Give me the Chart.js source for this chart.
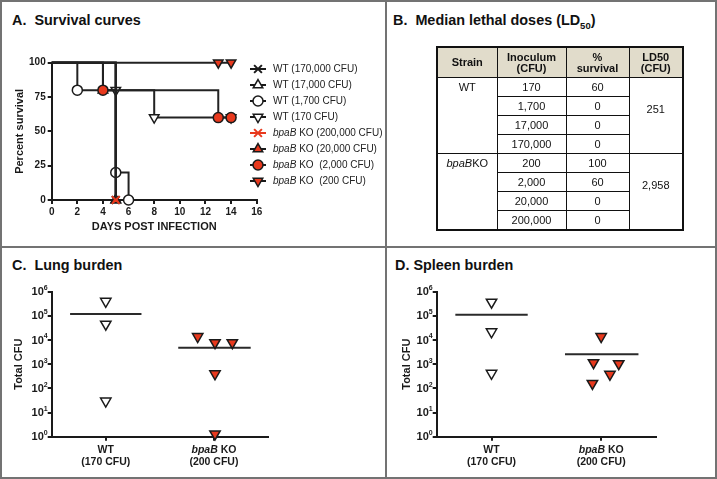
<!DOCTYPE html>
<html>
<head>
<meta charset="utf-8">
<script src="https://cdn.jsdelivr.net/npm/chart.js@4.4.0/dist/chart.umd.min.js"></script>
<style>
  body { margin: 0; background: #fff; font-family: "Liberation Sans", "DejaVu Sans", Arial, sans-serif; }
  #fig { position: relative; width: 717px; height: 479px; overflow: hidden; background: #fff; }
  .frame { position: absolute; left: 0; top: 0; width: 713px; height: 475px; border: 2px solid #737373; }
  .vline { position: absolute; left: 385px; top: 0; width: 2px; height: 479px; background: #737373; }
  .hline { position: absolute; left: 0; top: 246px; width: 717px; height: 2px; background: #737373; }
  .title { position: absolute; font-weight: bold; font-size: 14.4px; white-space: pre; color: #111; line-height: 16px; }
  .title sub { font-size: 9.5px; line-height: 0; }
  canvas { position: absolute; }
  #ld { position: absolute; left: 436px; top: 46px; border-collapse: collapse; border: 2.5px solid #111;
        font-size: 11px; color: #111; table-layout: fixed; will-change: transform; }
  #ld th, #ld td { border: 1px solid #111; text-align: center; padding: 0; }
  #ld th { background: #e1dccb; height: 29px; line-height: 11px; font-weight: bold; }
  #ld td { height: 18px; line-height: 18px; }
  #ld td.strain { vertical-align: top; }
  #ld td.ld { vertical-align: middle; padding-bottom: 13px; }
</style>
</head>
<body>
<div id="fig">
  <div class="frame"></div>
  <div class="vline"></div>
  <div class="hline"></div>
  <div class="title" style="left:12px;top:12px">A.  Survival curves</div>
  <div class="title" style="left:393px;top:12px">B.  Median lethal doses (LD<sub>50</sub>)</div>
  <div class="title" style="left:12px;top:257px">C.  Lung burden</div>
  <div class="title" style="left:395px;top:257px">D. Spleen burden</div>
  <table id="ld"></table>
  <canvas id="survival" width="385" height="246" style="left:0;top:0"></canvas>
  <canvas id="lung" width="385" height="229" style="left:0;top:248px"></canvas>
  <canvas id="spleen" width="328" height="229" style="left:387px;top:248px"></canvas>
</div>
<script>
// ---- A. survival curves
const survivalSeries = ['WT (170,000 CFU)', 'WT (17,000 CFU)', 'WT (1,700 CFU)', 'WT (170 CFU)',
  'bpaB KO (200,000 CFU)', 'bpaB KO (20,000 CFU)', 'bpaB KO  (2,000 CFU)', 'bpaB KO  (200 CFU)'];
const survivalDays = [[0, 5], [0, 5], [0, 2, 5, 6], [0, 5, 8, 14], [0, 5], [0, 4, 5], [0, 4, 13, 14], [0, 13, 14]];
const survivalPercent = [[100, 0], [100, 0], [100, 80, 20, 0], [100, 80, 60, 60], [100, 0], [100, 80, 0], [100, 80, 60, 60], [100, 100, 100]];
const dayTicks = [0, 2, 4, 6, 8, 10, 12, 14, 16];
const percentTicks = [0, 25, 50, 75, 100];

// ---- B. LD50 table
const ldStrains = ['WT', 'bpaBKO'];
const ldInoculum = [[170, 1700, 17000, 170000], [200, 2000, 20000, 200000]];
const ldSurvival = [[60, 0, 0, 0], [100, 60, 0, 0]];
const ld50 = [251, 2958];

// ---- C / D. organ burden
const groupNames = ['WT', 'bpaB KO'];
const groupDoses = ['(170 CFU)', '(200 CFU)'];
const groupCenters = [0.5, 1.5];
const cfuTicks = [1, 10, 100, 1000, 10000, 100000, 1000000];

const lungWtX = [0.5, 0.5, 0.5];
const lungWtCfu = [400000, 45000, 30];
const lungKoX = [1.35, 1.51, 1.67, 1.51, 1.51];
const lungKoCfu = [14000, 7800, 7800, 400, 1.3];
const lungMedian = [120000, 4800];

const spleenWtX = [0.5, 0.5, 0.5];
const spleenWtCfu = [370000, 22000, 420];
const spleenKoX = [1.50, 1.43, 1.66, 1.58, 1.42];
const spleenKoCfu = [14000, 1150, 1050, 380, 160];
const spleenMedian = [110000, 2600];

const medianSpans = [[0.17, 0.83], [1.17, 1.84]];

const FAMILY = '"Liberation Sans", "DejaVu Sans", Arial, sans-serif';
const RED = '#e8391d';
const INK = '#1a1a1a';
Chart.defaults.font.family = FAMILY;
Chart.defaults.color = INK;
Chart.defaults.animation = false;

function fmt(n) {
  return String(n).replace(/\B(?=(\d{3})+(?!\d))/g, ',');
}

function drawRich(ctx, text, x, y, size, weight, align) {
  const parts = text.split(/(bpaB)/).filter(p => p);
  const fontOf = p => (p === 'bpaB' ? 'italic ' : '') + weight + ' ' + size + 'px ' + FAMILY;
  let w = 0;
  parts.forEach(p => { ctx.font = fontOf(p); w += ctx.measureText(p).width; });
  let cx = align === 'center' ? x - w / 2 : x;
  ctx.textAlign = 'left';
  ctx.textBaseline = 'middle';
  parts.forEach(p => { ctx.font = fontOf(p); ctx.fillText(p, cx, y); cx += ctx.measureText(p).width; });
}

function drawMarker(ctx, style, x, y, r, rot, fill, stroke, lw) {
  ctx.save();
  ctx.translate(x, y);
  ctx.rotate(rot * Math.PI / 180);
  ctx.beginPath();
  if (style === 'circle') {
    ctx.arc(0, 0, r, 0, Math.PI * 2);
  } else if (style === 'triangle') {
    for (let k = 0; k < 3; k++) {
      const a = k * Math.PI * 2 / 3;
      ctx.lineTo(Math.sin(a) * r, -Math.cos(a) * r);
    }
    ctx.closePath();
  } else {
    const d = r * Math.SQRT1_2;
    ctx.moveTo(-d, -d); ctx.lineTo(d, d);
    ctx.moveTo(-d, d); ctx.lineTo(d, -d);
  }
  if (style !== 'crossRot') { ctx.fillStyle = fill; ctx.fill(); }
  ctx.strokeStyle = stroke;
  ctx.lineWidth = lw;
  ctx.stroke();
  ctx.restore();
}

function axisLook(extra) {
  return Object.assign({
    border: { display: true, color: INK, width: 2 },
    grid: { drawOnChartArea: false, drawTicks: true, tickLength: 4, color: INK, lineWidth: 2 },
    ticks: { font: { size: 10, weight: 'bold' }, padding: 2, color: INK, autoSkip: false, maxRotation: 0 }
  }, extra);
}

// survival chart
const markerStyle = ['crossRot', 'triangle', 'circle', 'triangle', 'crossRot', 'triangle', 'circle', 'triangle'];
const markerRot = [0, 0, 0, 180, 0, 0, 0, 180];
const drawOrder = [5, 6, 7, 8, 1, 3, 2, 4];

const survivalDatasets = survivalSeries.map((name, i) => {
  const ko = i >= 4;
  return {
    label: name,
    data: survivalDays[i].map((d, j) => ({ x: d, y: survivalPercent[i][j] })),
    stepped: 'before',
    borderColor: '#222',
    borderWidth: 2,
    pointStyle: markerStyle[i],
    pointRotation: markerRot[i],
    pointRadius: c => c.dataIndex === 0 ? 0 : (markerStyle[i] === 'circle' ? 5 : 5.5),
    pointBackgroundColor: ko ? RED : '#fff',
    pointBorderColor: (ko && markerStyle[i] === 'crossRot') ? RED : INK,
    pointBorderWidth: markerStyle[i] === 'crossRot' ? 2 : 1.5,
    clip: false,
    order: drawOrder[i]
  };
});

const survivalLegend = {
  id: 'survivalLegend',
  afterDraw(chart) {
    const ctx = chart.ctx;
    survivalDatasets.forEach((ds, i) => {
      const x = 258, y = 69 + i * 16;
      ctx.save();
      ctx.strokeStyle = ds.pointBorderColor;
      ctx.lineWidth = 2;
      ctx.beginPath(); ctx.moveTo(x - 8, y); ctx.lineTo(x + 8, y); ctx.stroke();
      drawMarker(ctx, ds.pointStyle, x, y, markerStyle[i] === 'circle' ? 5 : 5.5, ds.pointRotation,
        ds.pointBackgroundColor, ds.pointBorderColor, ds.pointBorderWidth);
      ctx.fillStyle = '#222';
      drawRich(ctx, ds.label, 273, y, 10, 'normal', 'left');
      ctx.restore();
    });
  }
};

new Chart(document.getElementById('survival'), {
  type: 'line',
  data: { datasets: survivalDatasets },
  options: {
    responsive: false,
    layout: { padding: { left: 13.4, top: 62.7, right: 128.3, bottom: 12.4 } },
    plugins: { legend: { display: false }, tooltip: { enabled: false } },
    scales: {
      x: axisLook({
        type: 'linear', min: 0, max: 16,
        afterBuildTicks: s => { s.ticks = dayTicks.map(v => ({ value: v })); },
        afterFit: s => { s.height = 33.6; },
        title: { display: true, text: 'DAYS POST INFECTION', font: { size: 11, weight: 'bold' }, padding: 0, color: INK }
      }),
      y: axisLook({
        type: 'linear', min: 0, max: 100,
        afterBuildTicks: s => { s.ticks = percentTicks.map(v => ({ value: v })); },
        afterFit: s => { s.width = 38.3; },
        title: { display: true, text: 'Percent survival', font: { size: 11, weight: 'bold' }, padding: 0, color: INK }
      })
    }
  },
  plugins: [survivalLegend]
});

// LD50 table
(function buildTable() {
  const t = document.getElementById('ld');
  const widths = [60, 69, 63, 54];
  let html = '<colgroup>' + widths.map(w => '<col style="width:' + w + 'px">').join('') + '</colgroup>';
  html += '<tr><th>Strain</th><th>Inoculum<br>(CFU)</th><th>%<br>survival</th><th>LD50<br>(CFU)</th></tr>';
  ldStrains.forEach((s, g) => {
    ldInoculum[g].forEach((v, r) => {
      html += '<tr>';
      if (r === 0) {
        const name = s.replace('bpaB', '<i>bpaB</i>');
        html += '<td class="strain" rowspan="4">' + name + '</td>';
      }
      html += '<td>' + fmt(v) + '</td><td>' + ldSurvival[g][r] + '</td>';
      if (r === 0) html += '<td class="ld" rowspan="4">' + fmt(ld50[g]) + '</td>';
      html += '</tr>';
    });
  });
  t.innerHTML = html;
})();

// organ burden charts: "10" with a raised exponent for each decade tick
const powerLabels = {
  id: 'powerLabels',
  afterDraw(chart) {
    const ctx = chart.ctx;
    const ys = chart.scales.y;
    ctx.save();
    ctx.fillStyle = INK;
    ctx.textAlign = 'right';
    ctx.textBaseline = 'middle';
    cfuTicks.forEach(v => {
      const py = ys.getPixelForValue(v);
      const xr = ys.right - 4;
      const exp = String(Math.round(Math.log10(v)));
      ctx.font = 'bold 7px ' + FAMILY;
      ctx.fillText(exp, xr, py - 3.5);
      const ew = ctx.measureText(exp).width;
      ctx.font = 'bold 11px ' + FAMILY;
      ctx.fillText('10', xr - ew, py + 0.5);
    });
    ctx.restore();
  }
};

const groupLabels = {
  id: 'groupLabels',
  afterDraw(chart) {
    const ctx = chart.ctx;
    const xs = chart.scales.x;
    ctx.save();
    ctx.fillStyle = INK;
    groupNames.forEach((name, i) => {
      const px = xs.getPixelForValue(groupCenters[i]);
      drawRich(ctx, name, px, xs.top + 13, 10.5, 'bold', 'center');
      drawRich(ctx, groupDoses[i], px, xs.top + 25.5, 10.5, 'bold', 'center');
    });
    ctx.restore();
  }
};

function burdenChart(id, wtX, wtCfu, koX, koCfu, medians, pad, yWidth) {
  const pts = (xs, ys) => xs.map((x, i) => ({ x: x, y: ys[i] }));
  const tri = fill => ({
    pointStyle: 'triangle', pointRotation: 180, pointRadius: 6,
    pointBackgroundColor: fill, pointBorderColor: INK, pointBorderWidth: 1.5, clip: false
  });
  const medianSet = g => ({
    data: medianSpans[g].map(x => ({ x: x, y: medians[g] })),
    showLine: true, borderColor: '#2a2a2a', borderWidth: 2, pointRadius: 0, clip: false
  });
  new Chart(document.getElementById(id), {
    type: 'scatter',
    data: {
      datasets: [
        Object.assign({ label: groupNames[0], data: pts(wtX, wtCfu) }, tri('#fff')),
        Object.assign({ label: groupNames[1], data: pts(koX, koCfu) }, tri(RED)),
        medianSet(0),
        medianSet(1)
      ]
    },
    options: {
      responsive: false,
      layout: { padding: pad },
      plugins: { legend: { display: false }, tooltip: { enabled: false } },
      scales: {
        x: axisLook({
          type: 'linear', min: 0, max: 2,
          afterBuildTicks: s => { s.ticks = groupCenters.map(v => ({ value: v })); },
          afterFit: s => { s.height = 40.3; },
          ticks: { display: false }
        }),
        y: axisLook({
          type: 'logarithmic', min: 1, max: 1000000,
          afterBuildTicks: s => { s.ticks = cfuTicks.map(v => ({ value: v })); },
          afterFit: s => { s.width = yWidth; },
          ticks: { display: false },
          title: { display: true, text: 'Total CFU', font: { size: 11, weight: 'bold' }, padding: 0, color: INK }
        })
      }
    },
    plugins: [powerLabels, groupLabels]
  });
}

burdenChart('lung', lungWtX, lungWtCfu, lungKoX, lungKoCfu, lungMedian,
  { left: 12.4, top: 43.7, right: 117, bottom: 0 }, 39.3);
burdenChart('spleen', spleenWtX, spleenWtCfu, spleenKoX, spleenKoCfu, spleenMedian,
  { left: 13.1, top: 43.7, right: 59, bottom: 0 }, 36.6);
</script>
</body>
</html>
